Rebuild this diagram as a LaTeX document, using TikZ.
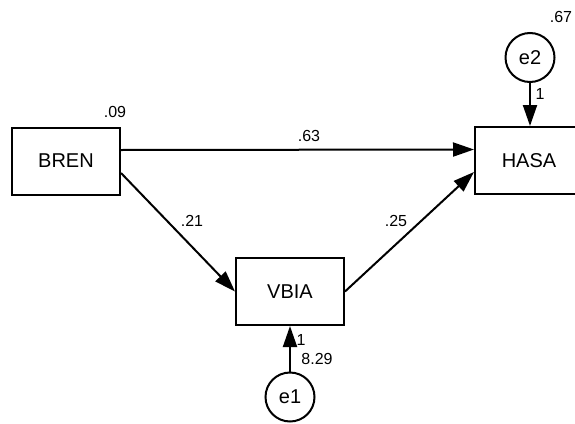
\documentclass[tikz,border=0pt]{standalone}
\usepackage{fontspec}
\setmainfont{Liberation Sans}
\usetikzlibrary{arrows.meta}
\begin{document}
\begin{tikzpicture}[x=1pt,y=-1pt,
    var/.style={draw,line width=2pt,minimum width=108pt,minimum height=67pt,inner sep=0pt,font=\fontsize{20}{20}\selectfont},
    err/.style={draw,circle,line width=2pt,minimum size=49pt,inner sep=0pt,font=\fontsize{20}{20}\selectfont},
    coef/.style={inner sep=0pt,font=\fontsize{16}{16}\selectfont},
    arr/.style={line width=2pt,-{Triangle[length=21pt,width=14pt]}}]
    \fill[white] (0,0) rectangle (575,423);
    \useasboundingbox (0,0) rectangle (575,423);

    % variables
    \node[var] (bren) at (66,161) {BREN};
    \node[var] (hasa) at (529,160.5) {HASA};
    \node[var] (vbia) at (290,291.5) {VBIA};

    % errors
    \node[err] (e2) at (530,57.5) {e2};
    \node[err] (e1) at (290,397) {e1};

    % paths
    \draw[arr] ([yshift=11pt]bren.east) -- ([yshift=11pt]hasa.west);
    \draw[arr] ([yshift=-12pt]bren.east) -- (vbia.west);
    \draw[arr] (vbia.east) -- ([yshift=-11.5pt]hasa.west);
    \draw[arr] (e2.south) -- (e2.south |- hasa.north);
    \draw[arr] (e1.north) -- (e1.north |- vbia.south);

    % estimates
    \node[coef] (r2bren) at (115,112) {.09};
    \node[coef] (r2hasa) at (561,17) {.67};
    \node[coef] (b63) at (309,136) {.63};
    \node[coef] (b21) at (192,221) {.21};
    \node[coef] (b25) at (396,221) {.25};
    \node[coef] (w2) at (540,94) {1};
    \node[coef] (w1) at (301,340) {1};
    \node[coef] (v1) at (317,359) {8.29};
\end{tikzpicture}
\end{document}
